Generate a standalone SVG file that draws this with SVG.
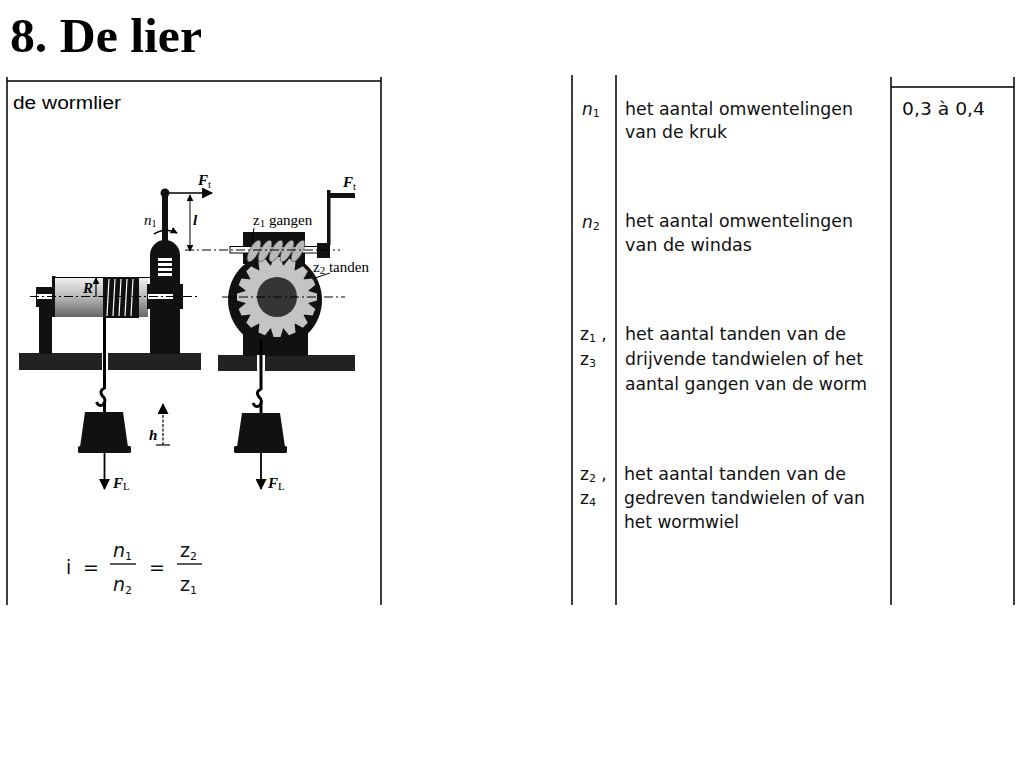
<svg xmlns="http://www.w3.org/2000/svg" xmlns:xlink="http://www.w3.org/1999/xlink" width="1024" height="768" viewBox="0 0 1024 768">
<style>
.frame{stroke:#000;stroke-width:1.5;fill:none}
.tx{font-family:"DejaVu Sans","Liberation Sans",sans-serif;font-size:17px;fill:#111}
.sym{font-family:"DejaVu Sans","Liberation Sans",sans-serif;font-size:17px;fill:#111;font-style:oblique}
.sub{font-size:11px}
.up{font-style:normal;font-weight:normal}
.lab{font-family:"Liberation Serif","DejaVu Serif",serif;font-size:15px;fill:#000}
.lbi{font-family:"Liberation Serif","DejaVu Serif",serif;font-size:15px;font-weight:bold;font-style:italic;fill:#000}
.lni{font-family:"Liberation Serif","DejaVu Serif",serif;font-size:15px;font-style:italic;fill:#000}
.blk{fill:#111}
.base{fill:#222}
.thin{stroke:#000;stroke-width:1;fill:none}
.cl{stroke:#000;stroke-width:1;fill:none;stroke-dasharray:9 3 2 3}
.rope{stroke:#000;stroke-width:3;fill:none}
</style>
<defs>
<linearGradient id="drum" x1="0" y1="0" x2="0" y2="1">
<stop offset="0" stop-color="#f0f0f0"/>
<stop offset="0.5" stop-color="#b5b5b5"/>
<stop offset="1" stop-color="#666"/>
</linearGradient>
<polygon id="tooth" points="270,269 284,269 280.5,257 273.5,257" fill="#c4c4c4"/>
<marker id="ah" viewBox="0 0 10 10" refX="9" refY="5" markerWidth="7" markerHeight="7" orient="auto-start-reverse" markerUnits="userSpaceOnUse">
<path d="M0,0 L10,5 L0,10 Z" fill="#000"/>
</marker>
<marker id="ahb" viewBox="0 0 10 10" refX="9" refY="5" markerWidth="12" markerHeight="11" orient="auto" markerUnits="userSpaceOnUse">
<path d="M0,0 L10,5 L0,10 Z" fill="#000"/>
</marker>
</defs>
<rect width="1024" height="768" fill="#fff"/>

<text x="10" y="52" font-family="'Liberation Serif','DejaVu Serif',serif" font-size="49" font-weight="bold" textLength="192" lengthAdjust="spacingAndGlyphs">8. De lier</text>

<g id="frame">
<path class="frame" d="M7,77 V605 M7,81 H381 M381,77 V605"/>
<path class="frame" d="M572,75 V605 M616,75 V605 M891,77 V605 M1014,77 V605 M891,87 H1014"/>
</g>

<text x="13" y="109" font-family="'Liberation Sans',Arial,sans-serif" font-size="18" textLength="108" lengthAdjust="spacingAndGlyphs">de wormlier</text>

<g id="bases">
<rect class="base" x="19" y="353" width="83" height="17"/>
<rect class="base" x="108" y="353" width="93" height="17"/>
<rect class="base" x="218" y="355" width="137" height="16"/>
</g>

<g id="side-winch">
<rect class="blk" x="39" y="305" width="13" height="49"/>
<rect class="blk" x="36" y="287" width="17" height="20"/>
<rect x="37" y="294" width="15" height="5" fill="#fff"/>
<rect class="blk" x="52" y="276" width="3.5" height="41"/>
<rect x="55" y="278" width="93" height="39" fill="url(#drum)"/>
<line x1="55" y1="277.5" x2="150" y2="277.5" stroke="#000" stroke-width="1.2"/>
<rect class="blk" x="103" y="277" width="36" height="41"/>
<g stroke="#fff" stroke-width="1.2">
<line x1="109" y1="279" x2="107" y2="316"/>
<line x1="115" y1="279" x2="113" y2="316"/>
<line x1="121" y1="279" x2="119" y2="316"/>
<line x1="127" y1="279" x2="125" y2="316"/>
<line x1="133" y1="279" x2="131" y2="316"/>
</g>
<path class="blk" d="M150,354 V255 A15,15 0 0 1 180,255 V354 Z"/>
<rect class="blk" x="147" y="284" width="36" height="25"/>
<g fill="#fff">
<rect x="158" y="258" width="14" height="3"/>
<rect x="158" y="263" width="14" height="3"/>
<rect x="158" y="268" width="14" height="3"/>
<rect x="158" y="273" width="14" height="3"/>
</g>
<rect x="148" y="294" width="25" height="5" fill="#fff"/>
<rect class="blk" x="162" y="193" width="6" height="48"/>
<circle cx="165" cy="193" r="4.5" fill="#111"/>
<path class="cl" d="M30,296.5 H200"/>
</g>

<g id="front-winch">
<circle cx="275" cy="300" r="47" fill="#111"/>
<rect class="blk" x="243" y="300" width="65" height="56"/>
<rect class="blk" x="243" y="232" width="62" height="32"/>
<circle cx="277" cy="297" r="32" fill="#c4c4c4"/>
<use xlink:href="#tooth"/>
<use xlink:href="#tooth" transform="rotate(22.5 277 297)"/>
<use xlink:href="#tooth" transform="rotate(45 277 297)"/>
<use xlink:href="#tooth" transform="rotate(67.5 277 297)"/>
<use xlink:href="#tooth" transform="rotate(90 277 297)"/>
<use xlink:href="#tooth" transform="rotate(112.5 277 297)"/>
<use xlink:href="#tooth" transform="rotate(135 277 297)"/>
<use xlink:href="#tooth" transform="rotate(157.5 277 297)"/>
<use xlink:href="#tooth" transform="rotate(180 277 297)"/>
<use xlink:href="#tooth" transform="rotate(202.5 277 297)"/>
<use xlink:href="#tooth" transform="rotate(225 277 297)"/>
<use xlink:href="#tooth" transform="rotate(247.5 277 297)"/>
<use xlink:href="#tooth" transform="rotate(270 277 297)"/>
<use xlink:href="#tooth" transform="rotate(292.5 277 297)"/>
<use xlink:href="#tooth" transform="rotate(315 277 297)"/>
<use xlink:href="#tooth" transform="rotate(337.5 277 297)"/>
<circle cx="277" cy="297" r="20" fill="#353535"/>
<rect x="230" y="246.5" width="90" height="6.5" fill="#fff" stroke="#000" stroke-width="1"/>
<g fill="#b8b8b8" stroke="#444" stroke-width="0.6">
<ellipse cx="254" cy="251" rx="4.5" ry="12" transform="rotate(28 254 251)"/>
<ellipse cx="265" cy="251" rx="4.5" ry="12" transform="rotate(28 265 251)"/>
<ellipse cx="276" cy="251" rx="4.5" ry="12" transform="rotate(28 276 251)"/>
<ellipse cx="287" cy="251" rx="4.5" ry="12" transform="rotate(28 287 251)"/>
<ellipse cx="298" cy="251" rx="4.5" ry="12" transform="rotate(28 298 251)"/>
</g>
<rect class="blk" x="317" y="243" width="13" height="15"/>
<rect class="blk" x="327" y="190" width="3.5" height="55"/>
<rect class="blk" x="327" y="193" width="28" height="5"/>
<path class="cl" d="M222,297 H345"/>
<path class="cl" d="M185,250 H340"/>
<rect x="257" y="355" width="8" height="16" fill="#fff"/>
</g>

<g id="load-left">
<line class="rope" x1="104.5" y1="317" x2="104.5" y2="389"/>
<path d="M104.5,388 q-6,3 -2,8 q5,4 0,9 q-4,2 -6,-3" stroke="#000" stroke-width="3" fill="none"/>
<line class="rope" x1="104.5" y1="402" x2="104.5" y2="413"/>
<polygon points="85,412 123,412 128,447 80,447" fill="#111"/>
<rect x="78" y="446" width="53" height="7" rx="1.5" fill="#111"/>
</g>

<g id="load-right">
<line class="rope" x1="261" y1="340" x2="261" y2="390"/>
<path d="M261,389 q-6,3 -2,8 q5,4 0,9 q-4,2 -6,-3" stroke="#000" stroke-width="3" fill="none"/>
<line class="rope" x1="261" y1="403" x2="261" y2="414"/>
<polygon points="242,413 280,413 285,447 237,447" fill="#111"/>
<rect x="234" y="446" width="53" height="7" rx="1.5" fill="#111"/>
</g>

<g id="connectors">
<line x1="165" y1="193" x2="212" y2="193" stroke="#000" stroke-width="1.5" marker-end="url(#ahb)"/>
<line x1="190" y1="195" x2="190" y2="251" stroke="#000" stroke-width="1" marker-start="url(#ah)" marker-end="url(#ah)"/>
<path d="M154,234 Q165,227 177,233" stroke="#000" stroke-width="1.5" fill="none" marker-end="url(#ah)"/>
<line x1="96" y1="297" x2="96" y2="278" stroke="#000" stroke-width="1.2" marker-end="url(#ah)"/>
<line x1="104.5" y1="453" x2="104.5" y2="489" stroke="#000" stroke-width="1.8" marker-end="url(#ahb)"/>
<line x1="261" y1="453" x2="261" y2="489" stroke="#000" stroke-width="1.8" marker-end="url(#ahb)"/>
<line x1="163" y1="445" x2="163" y2="404" stroke="#000" stroke-width="1.2" stroke-dasharray="3 1.5" marker-end="url(#ahb)"/>
<line x1="156" y1="445" x2="170" y2="445" stroke="#000" stroke-width="1.2"/>
<line x1="254" y1="228" x2="252" y2="241" class="thin"/>
<line x1="312" y1="279" x2="330" y2="273" class="thin"/>
</g>

<g id="labels">
<text class="lbi" x="198" y="185">F<tspan class="up" font-size="11" dy="3">t</tspan></text>
<text class="lbi" x="343" y="187">F<tspan class="up" font-size="11" dy="3">t</tspan></text>
<text class="lbi" x="193" y="225">l</text>
<text class="lni" x="144" y="225">n<tspan class="up" font-size="10" dy="2">1</tspan></text>
<text class="lbi" x="83" y="293">R</text>
<text class="lbi" x="149" y="440">h</text>
<text class="lbi" x="113" y="488">F<tspan class="up" font-size="11" dy="2">L</tspan></text>
<text class="lbi" x="268" y="488">F<tspan class="up" font-size="11" dy="2">L</tspan></text>
<text class="lab" x="253" y="225">z<tspan font-size="11" dy="2">1</tspan><tspan dy="-2"> gangen</tspan></text>
<text class="lab" x="313" y="272">z<tspan font-size="11" dy="2">2</tspan><tspan dy="-2"> tanden</tspan></text>
</g>

<g id="formula" font-family="'DejaVu Sans','Liberation Sans',sans-serif" font-size="19" fill="#111">
<text x="66" y="574">i</text>
<text x="83" y="574">=</text>
<text x="113" y="557" font-style="oblique">n<tspan font-size="11" font-style="normal" dy="3">1</tspan></text>
<line x1="110" y1="564" x2="136" y2="564" stroke="#000" stroke-width="1.3"/>
<text x="113" y="591" font-style="oblique">n<tspan font-size="11" font-style="normal" dy="3">2</tspan></text>
<text x="149" y="574">=</text>
<text x="180" y="557">z<tspan font-size="11" dy="3">2</tspan></text>
<line x1="177" y1="564" x2="202" y2="564" stroke="#000" stroke-width="1.3"/>
<text x="180" y="591">z<tspan font-size="11" dy="3">1</tspan></text>
</g>

<g id="row-n1">
<text class="sym" x="582" y="115">n<tspan class="sub" dy="2" font-style="normal">1</tspan></text>
<text class="tx" x="625" y="115" textLength="228" lengthAdjust="spacingAndGlyphs">het aantal omwentelingen</text>
<text class="tx" x="625" y="138" textLength="102" lengthAdjust="spacingAndGlyphs">van de kruk</text>
<text class="tx" x="902" y="115" textLength="83" lengthAdjust="spacingAndGlyphs">0,3 à 0,4</text>
</g>
<g id="row-n2">
<text class="sym" x="582" y="228">n<tspan class="sub" dy="2" font-style="normal">2</tspan></text>
<text class="tx" x="625" y="227" textLength="228" lengthAdjust="spacingAndGlyphs">het aantal omwentelingen</text>
<text class="tx" x="625" y="251" textLength="127" lengthAdjust="spacingAndGlyphs">van de windas</text>
</g>
<g id="row-z1">
<text class="tx" x="580" y="340">z<tspan class="sub" dy="2">1</tspan><tspan dy="-2"> ,</tspan></text>
<text class="tx" x="580" y="365">z<tspan class="sub" dy="2">3</tspan></text>
<text class="tx" x="625" y="340" textLength="221" lengthAdjust="spacingAndGlyphs">het aantal tanden van de</text>
<text class="tx" x="625" y="365" textLength="238" lengthAdjust="spacingAndGlyphs">drijvende tandwielen of het</text>
<text class="tx" x="625" y="390" textLength="242" lengthAdjust="spacingAndGlyphs">aantal gangen van de worm</text>
</g>
<g id="row-z2">
<text class="tx" x="580" y="480">z<tspan class="sub" dy="2">2</tspan><tspan dy="-2"> ,</tspan></text>
<text class="tx" x="580" y="504">z<tspan class="sub" dy="2">4</tspan></text>
<text class="tx" x="624" y="480" textLength="222" lengthAdjust="spacingAndGlyphs">het aantal tanden van de</text>
<text class="tx" x="624" y="504" textLength="241" lengthAdjust="spacingAndGlyphs">gedreven tandwielen of van</text>
<text class="tx" x="624" y="528" textLength="115" lengthAdjust="spacingAndGlyphs">het wormwiel</text>
</g>
</svg>
